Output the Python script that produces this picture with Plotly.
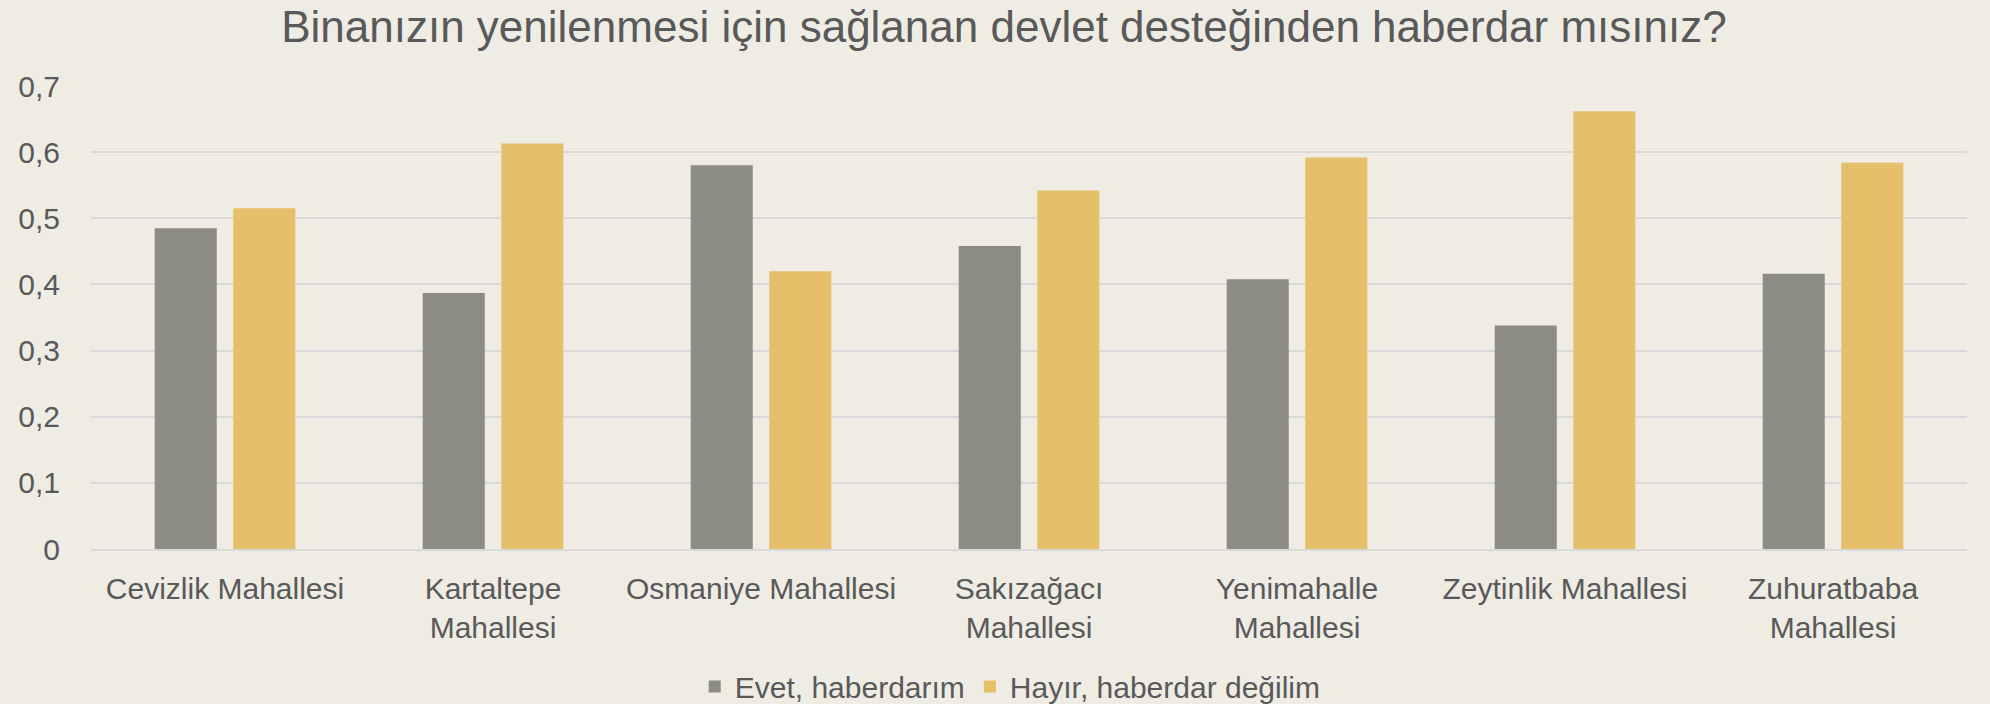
import plotly.graph_objects as go

categories = ["Cevizlik Mahallesi", "Kartaltepe<br>Mahallesi", "Osmaniye Mahallesi",
              "Sakızağacı<br>Mahallesi", "Yenimahalle<br>Mahallesi", "Zeytinlik Mahallesi",
              "Zuhuratbaba<br>Mahallesi"]
evet = [0.485, 0.387, 0.580, 0.458, 0.408, 0.338, 0.416]
hayir = [0.515, 0.613, 0.420, 0.542, 0.592, 0.662, 0.584]
series_names = ["Evet, haberdarım", "Hayır, haberdar değilim"]
y_tickvals = [0, 0.1, 0.2, 0.3, 0.4, 0.5, 0.6, 0.7]
y_ticktext = ["0", "0,1", "0,2", "0,3", "0,4", "0,5", "0,6", "0,7"]
title = "Binanızın yenilenmesi için sağlanan devlet desteğinden haberdar mısınız?"

FONT = "Liberation Sans, Arial, sans-serif"
TXT = "#595959"

fig = go.Figure()
fig.add_trace(go.Bar(x=categories, y=evet, name=series_names[0], marker_color="#8C8C84",
                     marker_line_width=0))
fig.add_trace(go.Bar(x=categories, y=hayir, name=series_names[1], marker_color="#E5BF69",
                     marker_line_width=0))

fig.update_layout(
    width=1990, height=704,
    paper_bgcolor="#EFECE4", plot_bgcolor="#EFECE4",
    margin=dict(l=91, r=23, t=86, b=155, autoexpand=False),
    barmode="group", bargap=0.414, bargroupgap=0.21,
    font=dict(family=FONT, color=TXT, size=30),
    title=dict(text=title, x=0.5045, xanchor="center", y=0.962, yanchor="middle",
               font=dict(family=FONT, size=44, color=TXT)),
    legend=dict(orientation="h", x=0.49, xanchor="center", y=-0.297, yanchor="middle",
                font=dict(family=FONT, size=30, color=TXT), bgcolor="rgba(0,0,0,0)",
                itemwidth=30, tracegroupgap=0),
    showlegend=True,
)
fig.update_yaxes(range=[0, 0.7], tickvals=y_tickvals, ticktext=y_ticktext,
                 showgrid=True, gridcolor="#D9D9D9", gridwidth=2, zeroline=False,
                 showline=False, ticks="", ticklabelstandoff=30,
                 tickfont=dict(family=FONT, size=30, color=TXT))
fig.update_xaxes(showline=True, linecolor="#D9D9D9", linewidth=2, ticks="",
                 ticklabelstandoff=12,
                 tickfont=dict(family=FONT, size=30, color=TXT))

fig.write_html("out.html", config={"displayModeBar": False},
               post_script="document.body.style.margin='0';document.body.style.padding='0';")
